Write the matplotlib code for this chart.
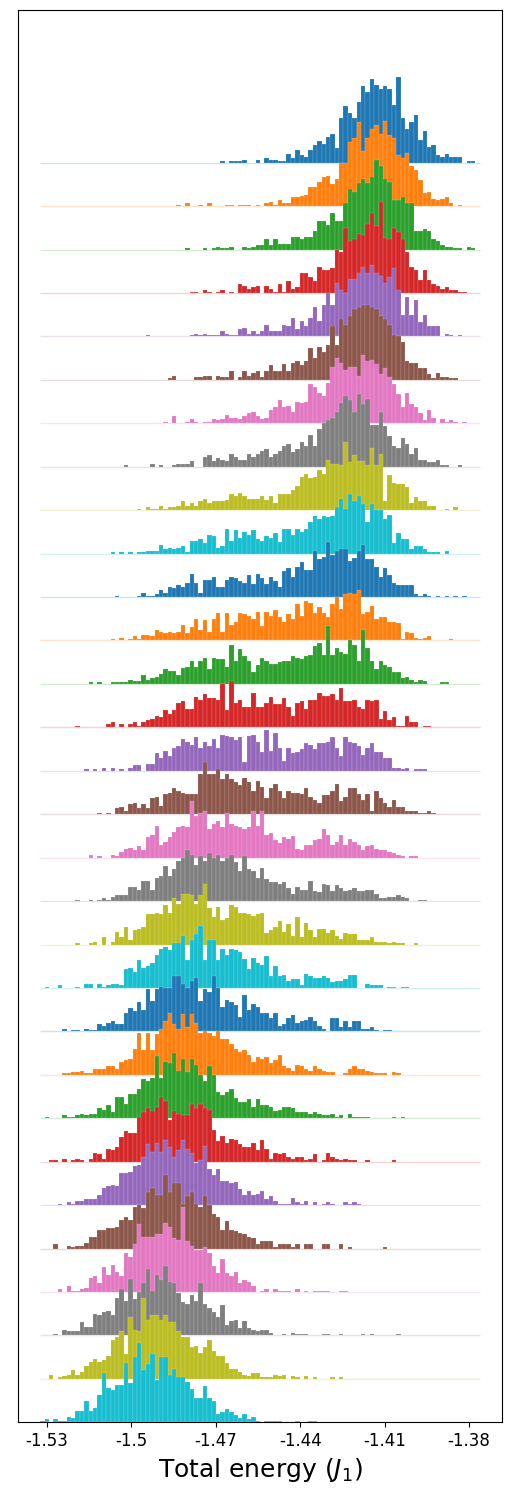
import numpy as np
import matplotlib.pyplot as plt

# common binning for all rows (100 bins)
X_LO = -1.53224
X_HI = -1.37626
N_BINS = 100
OFFSET = 30  # vertical shift between rows

TICKS = [-1.53, -1.5, -1.47, -1.44, -1.41, -1.38]
TICK_LABELS = ["-1.53", "-1.5", "-1.47", "-1.44", "-1.41", "-1.38"]

# first non-empty bin of each row (top row first)
starts = [41, 31, 33, 34, 24, 29, 28, 19, 22, 16,
          17, 16, 11, 8, 10, 13, 11, 8, 8, 1,
          5, 5, 1, 2, 4, 3, 4, 3, 2, 0]

# bin counts, row by row (top to bottom)
counts = [
    [1,0,1,1,1,2,0,0,2,0,3,2,2,1,1,6,3,9,5,4,9,12,15,13,18,20,10,31,39,34,31,42,53,49,58,54,51,53,51,40,59,31,23,28,33,16,22,11,12,5,4,6,4,4,4,0,1,1],
    [1,0,2,0,0,1,0,2,0,0,0,1,1,0,1,1,1,0,1,0,2,3,1,4,2,2,6,6,7,8,13,13,17,20,21,15,19,30,30,44,47,58,38,47,53,56,50,59,49,47,35,33,37,28,25,18,9,10,5,4,5,6,2,0,1],
    [1,0,0,0,1,0,1,2,1,1,2,0,0,2,1,2,3,3,7,3,7,4,4,4,9,9,7,9,9,13,20,20,17,25,20,20,32,42,40,46,49,46,50,62,58,49,47,34,34,36,32,32,13,13,14,13,7,6,3,2,2,1,1,0,2,1],
    [1,1,0,2,1,0,1,2,0,1,0,6,5,3,4,5,0,5,3,1,6,1,8,3,4,14,14,11,8,18,16,16,17,30,28,45,36,37,41,40,48,55,46,63,38,37,45,42,37,28,18,16,9,16,9,6,5,3,4,2,2,1,1],
    [1,0,0,0,0,0,0,0,0,0,1,2,1,2,1,1,1,4,2,1,1,5,6,2,4,2,4,8,4,4,4,8,7,13,5,11,7,13,20,11,22,30,22,37,32,30,40,40,44,48,44,49,44,42,37,41,47,32,15,27,15,25,10,15,7,7,7,0,2,1,0,1],
    [1,3,0,0,0,0,2,2,3,3,0,3,2,2,6,0,2,6,3,5,6,2,6,10,6,6,11,6,12,13,10,13,22,15,23,19,24,37,24,42,38,44,49,50,52,52,50,49,44,42,38,31,30,26,13,12,12,8,8,4,1,5,2,2,1,1],
    [1,0,5,0,0,1,3,1,0,1,1,3,2,3,6,4,4,3,5,7,8,5,3,4,9,11,16,11,12,8,15,14,15,27,25,21,19,28,39,45,42,37,39,39,33,47,43,44,41,34,38,32,27,20,11,21,13,11,7,2,9,4,0,3,1,2,1,0,1],
    [1,0,0,0,0,0,2,0,1,0,0,1,2,2,2,4,0,0,7,8,4,6,5,4,9,7,5,5,9,7,9,11,12,7,9,11,14,16,10,12,17,14,22,14,26,30,32,34,38,44,49,46,38,50,43,47,29,29,38,28,21,14,13,20,16,9,13,5,5,3,3,5,1,1,0,0,1],
    [1,0,2,1,1,3,1,2,2,3,6,3,5,3,6,8,5,6,6,6,7,11,10,12,10,8,8,8,10,7,10,5,11,11,11,14,17,23,25,22,23,28,25,35,32,32,31,47,33,38,34,34,31,43,31,39,6,24,19,18,18,16,5,9,6,6,3,3,0,0,1,0,2],
    [1,0,1,0,1,0,1,1,2,2,2,6,3,4,3,4,5,1,9,9,10,7,13,12,4,5,17,9,16,11,15,13,16,10,9,12,11,14,8,17,17,13,17,15,17,22,26,24,26,25,26,32,38,31,41,36,40,34,22,34,30,30,24,27,7,14,10,10,3,5,5,3,1,1,1,0,2],
    [1,0,0,0,0,1,3,1,1,2,5,3,7,6,8,7,10,16,10,3,12,12,14,7,7,12,14,13,11,10,15,9,16,13,9,14,11,7,18,20,14,21,24,19,19,32,26,28,38,29,32,33,33,25,27,32,36,26,26,21,14,20,15,10,8,8,8,8,2,1,2,1,0,1,0,1,0,1,0,1],
    [1,0,2,0,1,3,1,4,4,3,7,6,5,6,5,6,11,5,9,15,7,14,6,15,19,6,19,11,13,19,18,17,15,20,10,20,17,21,16,13,18,15,25,17,27,26,19,23,19,16,25,30,22,32,33,32,35,18,20,24,15,16,16,13,13,12,1,6,5,2,1,2,3,0,0,0,0,1],
    [1,0,1,0,0,1,1,1,1,3,2,2,6,3,4,5,7,10,9,9,6,11,12,16,12,16,18,10,18,17,17,12,27,16,24,19,16,8,13,18,16,14,14,15,16,16,19,18,17,19,20,26,28,20,40,20,25,22,21,30,27,16,37,25,16,10,16,13,12,8,8,4,5,3,1,3,2,0,0,0,1,1],
    [1,0,0,0,0,0,0,2,4,0,2,0,2,4,1,4,5,6,8,7,12,9,12,17,18,13,13,21,19,23,20,20,19,30,12,32,17,19,14,14,24,14,14,17,21,16,16,20,14,8,17,18,13,19,19,24,22,22,23,19,27,18,18,19,14,13,19,18,19,6,11,5,7,1,1,8,4,4,0,1,1],
    [1,0,1,0,2,0,2,0,1,0,2,4,4,0,5,5,12,9,14,10,16,17,22,20,18,23,16,20,17,22,16,25,24,23,21,23,6,24,25,20,13,28,14,26,16,7,16,12,13,15,19,18,15,19,19,20,23,16,10,23,20,19,17,11,16,19,13,13,9,9,2,2,1,2,0,1,1,1],
    [1,0,1,0,4,5,2,7,8,4,7,4,11,12,6,14,15,18,16,15,14,14,14,28,36,28,28,31,24,28,24,22,20,25,22,16,23,19,11,18,21,16,11,16,15,15,14,18,12,10,8,13,13,16,21,9,12,18,18,14,10,14,2,16,11,8,5,10,5,5,2,2,2,1,1,2,1],
    [2,0,1,0,0,2,1,4,6,7,5,8,5,14,16,22,9,11,14,18,21,22,21,39,29,31,32,20,23,25,21,31,23,22,21,20,21,32,22,32,16,17,12,10,14,13,15,6,5,9,9,12,13,20,16,9,11,16,9,13,11,9,5,8,9,6,5,5,4,3,2,1,0,1,1],
    [1,0,0,1,0,1,2,1,3,4,4,4,10,10,8,14,14,8,16,17,24,17,22,28,30,35,32,25,31,28,33,30,32,28,30,32,27,21,31,22,21,16,23,15,13,13,12,13,9,5,10,8,8,14,7,6,12,11,7,11,9,7,8,9,7,7,8,8,5,2,2,3,3,4,3,2,0,0,1,1],
    [1,0,0,1,2,0,5,0,2,9,5,12,3,10,11,12,21,21,22,21,27,22,32,28,35,35,34,28,34,42,25,19,26,17,18,27,26,22,22,21,20,21,22,8,10,12,16,9,14,6,19,5,15,10,5,11,11,8,10,6,4,8,7,7,3,3,3,5,2,2,2,1,2,1,1,0,0,1],
    [1,0,0,2,0,0,0,1,0,3,3,0,3,1,2,3,3,2,13,14,11,19,14,15,17,23,27,28,26,31,31,36,19,33,37,43,19,33,33,19,27,23,27,26,25,20,13,21,17,16,22,8,15,8,9,5,6,6,2,10,8,7,7,8,7,4,5,5,6,9,9,0,0,3,2,2,2,0,1,1,0,1,1],
    [2,0,1,1,0,2,1,1,5,4,6,7,5,5,13,16,14,20,15,29,21,29,31,30,30,38,38,33,30,35,37,21,29,27,38,30,17,22,20,18,10,25,15,19,17,13,13,9,13,4,5,9,11,6,7,8,10,7,4,2,0,9,9,3,7,3,7,7,2,2,3,1,0,1,1],
    [1,1,2,2,3,1,1,4,4,4,6,6,4,9,10,11,18,29,17,29,17,28,32,37,43,35,32,42,33,42,36,29,30,29,27,30,25,25,21,18,16,17,14,9,12,11,12,8,10,14,6,5,3,7,6,4,3,6,4,3,2,2,0,0,1,4,6,4,4,3,2,1,1,1,0,2,1],
    [1,0,0,0,2,1,1,2,3,2,3,3,7,6,9,4,15,15,10,17,17,20,27,26,28,43,28,39,38,45,33,41,32,41,37,30,26,36,30,18,16,18,20,14,11,11,13,8,13,9,9,8,5,6,8,8,7,4,4,4,3,4,3,2,2,3,1,2,0,3,1,1,1,1,0,0,0,0,0,1,0,1],
    [1,1,0,2,0,1,2,1,0,2,6,5,2,9,8,10,17,21,20,20,31,34,37,35,38,45,42,29,35,33,32,32,40,37,40,37,36,22,14,18,13,16,15,12,10,10,13,8,15,9,2,6,5,6,3,2,3,3,1,2,5,0,1,6,3,2,1,2,1,1,0,0,1,0,0,0,0,0,1],
    [1,0,2,1,3,3,4,4,4,7,12,13,14,13,22,22,23,27,28,33,42,37,43,37,45,40,33,38,45,39,36,29,31,41,25,21,25,17,17,15,16,11,7,10,7,8,10,4,6,3,1,1,1,5,2,1,3,0,2,0,1,2,1,0,0,2,1,2,1],
    [3,0,0,2,1,2,2,4,8,8,13,13,14,14,15,20,22,20,29,30,28,39,42,37,37,51,39,45,45,31,36,39,31,29,36,30,24,22,13,19,13,12,11,10,8,7,3,5,5,5,1,3,3,3,1,3,0,3,3,0,0,3,3,0,0,3,0,1,0,0,0,0,0,0,0,1],
    [2,0,4,1,1,2,3,10,11,6,17,12,19,14,11,27,24,33,47,38,38,38,40,40,48,45,37,36,59,35,32,29,29,31,27,18,13,23,13,11,14,6,8,7,4,0,1,2,0,2,1,1,1,0,2,0,1,0,1,1,1,1,0,0,1,1],
    [1,0,4,3,3,3,9,6,6,15,14,16,17,14,26,32,24,39,25,30,36,46,31,42,38,48,37,36,29,23,22,28,24,36,22,19,16,13,21,7,10,11,5,10,5,4,3,4,4,2,0,0,1,0,2,1,1,1,0,0,0,1,1,0,0,1,0,0,0,0,1,0,1,0,0,0,0,0,1],
    [3,0,1,2,3,6,3,5,9,12,14,12,13,16,27,29,33,17,43,34,33,56,41,44,44,41,44,39,39,33,29,29,22,23,18,22,27,19,16,16,11,7,7,5,3,2,4,4,1,1,1,3,2,3,0,2,1,0,2,0,1,0,0,0,1,0,1],
    [1,2,0,2,1,1,4,3,8,8,15,8,10,19,34,24,22,26,26,41,27,45,55,36,40,47,29,45,45,33,37,31,31,28,23,17,17,25,17,15,6,7,9,7,5,3,6,2,4,1,0,1,1,1,1,0,0,0,1,0,0,1,1],
]

edges = np.linspace(X_LO, X_HI, N_BINS + 1)
width = edges[1] - edges[0]
colors = plt.rcParams['axes.prop_cycle'].by_key()['color']

fig = plt.figure(figsize=(5.14, 14.95), dpi=100)
ax = fig.add_axes([0.0356, 0.0486, 0.976 - 0.0356, 0.9933 - 0.0486])

n_rows = len(counts)
for i, (s, c) in enumerate(zip(starts, counts)):
    full = np.zeros(N_BINS)
    full[s:s + len(c)] = c
    off = (n_rows - 1 - i) * OFFSET
    col = colors[i % len(colors)]
    ax.hlines(off, X_LO, X_HI, color=col, alpha=0.2, lw=1, zorder=2 * i)
    mask = full > 0
    ax.bar(edges[:-1][mask], full[mask], width=width, bottom=off, align='edge',
           color=col, edgecolor=(1, 1, 1, 0.35), linewidth=0.3, zorder=2 * i + 1)

pad = 0.05 * (X_HI - X_LO)
ax.set_xlim(X_LO - pad, X_HI + pad)
ax.set_ylim(0, None)
ax.set_yticks([])
ax.set_xticks(TICKS)
ax.set_xticklabels(TICK_LABELS, fontsize=12)
ax.set_xlabel("Total energy ($J_1$)", fontsize=18)

fig.savefig("out.png", dpi=100)
